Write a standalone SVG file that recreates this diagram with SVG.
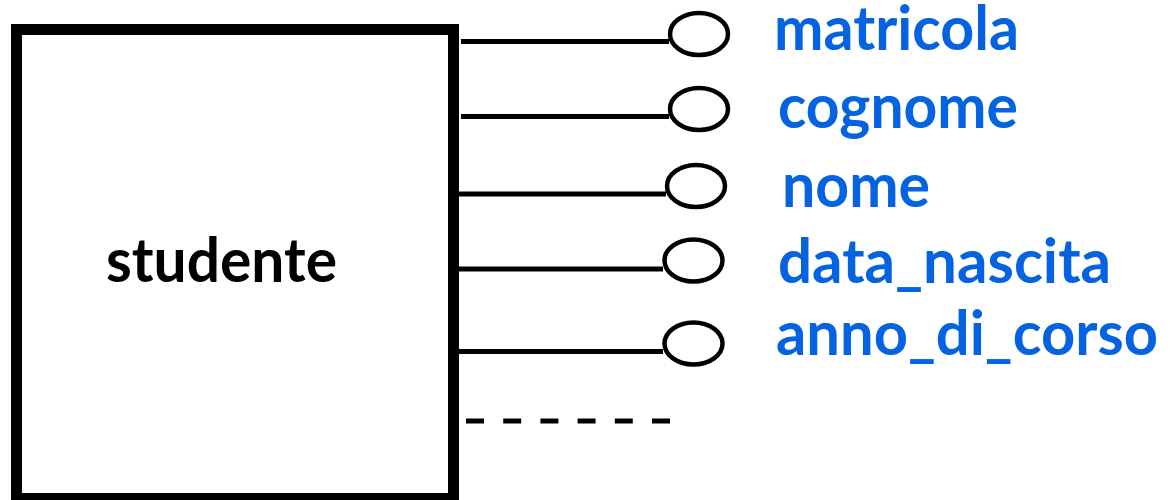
<svg xmlns="http://www.w3.org/2000/svg" width="1170" height="500" viewBox="0 0 1170 500">
<style>
.ent{fill:#fff;stroke:#000;stroke-width:11}
.lbl{font-family:Lato,"Open Sans","Liberation Sans",sans-serif;font-weight:bold;fill:#000;font-size:61px}
.attr{font-family:Lato,"Open Sans","Liberation Sans",sans-serif;font-weight:bold;fill:#0563E1;font-size:62px}
.conn{stroke:#000;stroke-width:5;fill:none}
.att{fill:#fff;stroke:#000;stroke-width:4.5}
</style>
<rect width="1170" height="500" fill="#fff"/>
<g id="studente">
<rect class="ent" x="16.5" y="29.5" width="437" height="469"/>
<text class="lbl" x="106" y="282" textLength="231" lengthAdjust="spacingAndGlyphs">studente</text>
</g>
<g id="connectors">
<line class="conn" x1="461" y1="41.5" x2="669" y2="41.5"/>
<line class="conn" x1="461" y1="116.5" x2="669" y2="116.5"/>
<line class="conn" x1="455" y1="194" x2="666" y2="194"/>
<line class="conn" x1="455" y1="269" x2="663" y2="269"/>
<line class="conn" x1="455" y1="351.5" x2="663" y2="351.5"/>
<line class="conn" x1="466" y1="421" x2="673" y2="421" stroke-dasharray="18 19.2"/>
</g>
<g id="matricola">
<ellipse class="att" cx="699" cy="34" rx="29" ry="21"/>
<text class="attr" x="774" y="50" textLength="245" lengthAdjust="spacingAndGlyphs">matricola</text>
</g>
<g id="cognome">
<ellipse class="att" cx="699" cy="109" rx="29" ry="21"/>
<text class="attr" x="778" y="128" textLength="240" lengthAdjust="spacingAndGlyphs">cognome</text>
</g>
<g id="nome">
<ellipse class="att" cx="696" cy="186" rx="29" ry="21"/>
<text class="attr" x="782" y="207" textLength="148" lengthAdjust="spacingAndGlyphs">nome</text>
</g>
<g id="data_nascita">
<ellipse class="att" cx="693.5" cy="260.5" rx="29" ry="21"/>
<text class="attr" x="778" y="283" textLength="333" lengthAdjust="spacingAndGlyphs">data_nascita</text>
</g>
<g id="anno_di_corso">
<ellipse class="att" cx="693.5" cy="343.5" rx="29" ry="21"/>
<text class="attr" x="776" y="355" textLength="382" lengthAdjust="spacingAndGlyphs">anno_di_corso</text>
</g>
</svg>
